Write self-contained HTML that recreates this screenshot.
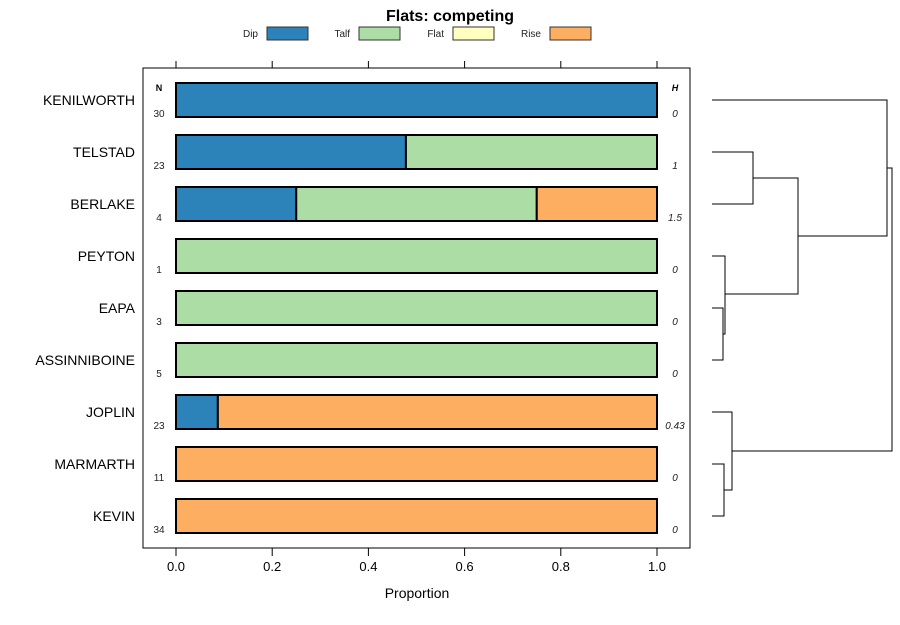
<!DOCTYPE html>
<html><head><meta charset="utf-8"><style>
body{margin:0;background:#fff;}
svg{font-family:"Liberation Sans",sans-serif;}
</style></head><body>
<svg id="c" width="900" height="620" xmlns="http://www.w3.org/2000/svg">
<text x="450" y="21" text-anchor="middle" font-size="16" font-weight="bold">Flats: competing</text>
<g id="legend"></g>
<rect x="143" y="68" width="547" height="480" fill="none" stroke="#000" stroke-width="1"/>
<text x="159" y="91" text-anchor="middle" font-size="9" font-weight="bold">N</text>
<text x="675" y="91" text-anchor="middle" font-size="9" font-weight="bold" font-style="italic">H</text>
<g id="bars"></g><g id="axes"></g><g id="dendro"></g>
<text x="417" y="598" text-anchor="middle" font-size="14">Proportion</text>
</svg>
<script>
const sites=["KENILWORTH","TELSTAD","BERLAKE","PEYTON","EAPA","ASSINNIBOINE","JOPLIN","MARMARTH","KEVIN"];
const nVals=[30,23,4,1,3,5,23,11,34];
const hVals=["0","1","1.5","0","0","0","0.43","0","0"];
const dip=[1,0.478,0.25,0,0,0,0.087,0,0];
const talf=[0,0.522,0.5,1,1,1,0,0,0];
const flat=[0,0,0,0,0,0,0,0,0];
const rise=[0,0,0.25,0,0,0,0.913,1,1];
const ticks=[0,0.2,0.4,0.6,0.8,1.0];
const cats=["Dip","Talf","Flat","Rise"];
const colors=["#2c83ba","#abdda4","#ffffbf","#fdae61"];
const NS="http://www.w3.org/2000/svg";
const sx=v=>176+v*481;
const sy=i=>100+i*52;
function mk(tag,attrs,parent,txt){const e=document.createElementNS(NS,tag);for(const k in attrs)e.setAttribute(k,attrs[k]);if(txt!==undefined)e.textContent=txt;parent.appendChild(e);return e;}
const bars=document.getElementById('bars'),axes=document.getElementById('axes'),lg=document.getElementById('legend'),dg=document.getElementById('dendro');
const lgX=[[258,267],[350,359],[444,453],[541,550]];
cats.forEach((c,k)=>{
  const t=mk('text',{x:lgX[k][0],y:37,'text-anchor':'end','font-size':10,fill:'#222'},lg,c);
  
  
  const r=mk('rect',{x:lgX[k][1],y:27,width:41,height:13,fill:colors[k],stroke:'#333'},lg);
  
  
});
const series=[dip,talf,flat,rise];
sites.forEach((s,i)=>{
  const y=sy(i);let acc=0;
  series.forEach((arr,k)=>{
    const v=arr[i];if(v<=0)return;
    const r=mk('rect',{x:sx(acc),y:y-17,width:sx(acc+v)-sx(acc),height:34,fill:colors[k],stroke:'#000','stroke-width':2},bars);
    
    
    acc+=v;
  });
  const l=mk('text',{x:135,y:y+5,'text-anchor':'end','font-size':14},axes,s);
  
  
  const n=mk('text',{x:159,y:y+17,'text-anchor':'middle','font-size':10,fill:'#222'},axes,nVals[i]);
  
  
  const h=mk('text',{x:675,y:y+17,'text-anchor':'middle','font-size':10,'font-style':'italic',fill:'#222'},axes,hVals[i]);
  
  
});
ticks.forEach(t=>{
  const x=sx(t);
  mk('line',{x1:x,x2:x,y1:61,y2:68,stroke:'#000'},axes);
  mk('line',{x1:x,x2:x,y1:548,y2:556,stroke:'#000'},axes);
  const tl=mk('text',{x:x,y:571,'text-anchor':'middle','font-size':13},axes,t.toFixed(1));
  
  
});
// dendrogram: [x of merge, y1, y2, leftX1, leftX2]
function link(x,ya,xa,yb,xb){mk('path',{d:`M${xa},${ya}H${x}V${yb}H${xb}`,fill:'none',stroke:'#000','stroke-width':1},dg);}
const L=712;
link(753,sy(1),L,sy(2),L);
link(723,sy(4),L,sy(5),L);
link(725,sy(3),L,334,723);
link(798,178,753,294,725);
link(887,sy(0),L,236,798);
link(724,sy(7),L,sy(8),L);
link(732,sy(6),L,490,724);
link(892,168,887,451,732);
</script>
</body></html>
